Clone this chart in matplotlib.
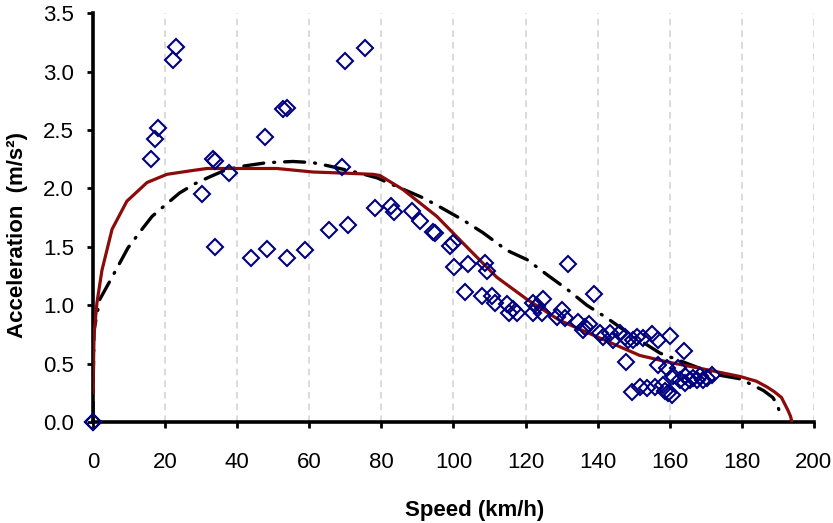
import matplotlib.pyplot as plt

# Measured points (speed km/h, acceleration m/s^2)
meas_speed = [0, 0, 16.1, 17.2, 18.0, 22.2, 23.0, 30.2, 33.3, 33.8, 33.8, 37.7,
              43.8, 47.7, 48.3, 52.7, 53.8, 53.8, 58.8, 65.5, 69.1, 69.9, 70.7,
              75.5, 78.2, 82.7, 83.5, 88.5, 90.7, 94.3, 94.9, 99.0, 99.9, 100.1,
              104.0, 103.2, 108.7, 109.3, 107.9, 110.7, 111.5, 114.8, 115.4,
              116.5, 117.6, 122.1, 123.2, 124.8, 122.1, 124.5, 128.7, 130.1,
              130.9, 131.8, 134.5, 135.9, 137.6, 136.5, 139.0, 140.6, 141.5,
              143.4, 144.2, 146.2, 147.6, 148.4, 149.8, 150.9, 152.6, 155.1,
              156.7, 160.1, 149.5, 151.7, 153.7, 155.9, 158.1, 158.7, 159.5,
              160.6, 147.9, 156.7, 159.2, 162.3, 163.9, 160.9, 162.8, 164.2,
              164.2, 165.6, 166.4, 167.5, 168.4, 169.2, 170.3, 171.7]
meas_accel = [0, 0, 2.25, 2.42, 2.52, 3.10, 3.21, 1.95, 2.25, 2.23, 1.50, 2.13,
              1.40, 2.44, 1.48, 2.68, 2.69, 1.40, 1.47, 1.64, 2.18, 3.09, 1.69,
              3.20, 1.83, 1.85, 1.80, 1.81, 1.72, 1.63, 1.62, 1.51, 1.53, 1.33,
              1.35, 1.11, 1.36, 1.29, 1.08, 1.08, 1.02, 1.01, 0.93, 0.97, 0.93,
              1.02, 0.99, 1.05, 0.93, 0.93, 0.90, 0.96, 0.89, 1.35, 0.86, 0.79,
              0.84, 0.81, 1.10, 0.76, 0.73, 0.76, 0.70, 0.76, 0.73, 0.70, 0.70,
              0.73, 0.72, 0.75, 0.70, 0.74, 0.26, 0.30, 0.29, 0.30, 0.32, 0.27,
              0.25, 0.23, 0.51, 0.49, 0.46, 0.46, 0.61, 0.39, 0.36, 0.39, 0.33,
              0.36, 0.38, 0.36, 0.39, 0.36, 0.38, 0.40]

# Model curve 1 (solid dark red)
red_speed = [0, 0.3, 1.1, 2.5, 5.3, 9.4, 15, 20.5, 27, 31.6, 40, 51, 61, 70,
             77.7, 79.6, 86, 95.4, 104.6, 112, 120.4, 129.5, 139.8, 151.7, 160,
             168.4, 179.5, 184, 187, 189, 191, 192.8, 193.5, 193.9]
red_accel = [0.25, 0.75, 1.02, 1.30, 1.65, 1.89, 2.05, 2.12, 2.15, 2.17, 2.17,
             2.17, 2.14, 2.13, 2.12, 2.11, 1.99, 1.76, 1.47, 1.24, 1.05, 0.87,
             0.73, 0.57, 0.51, 0.46, 0.39, 0.35, 0.30, 0.26, 0.21, 0.10, 0.05, 0.0]

# Model curve 2 (black dash-dot)
blk_speed = [0, 0.1, 0.3, 1.9, 5.3, 9.7, 13.6, 16.4, 19.4, 24, 28.3, 32.5, 37,
             41.6, 48.3, 55.5, 61, 65.7, 74, 78.8, 83.2, 91.5, 96.3, 102.6,
             108.2, 114.8, 120.4, 126, 131.8, 137, 142.6, 148.1, 157.3, 167.5,
             174, 179.5, 186, 188.6, 190, 190.6]
blk_accel = [0, 0.4, 0.79, 1.05, 1.24, 1.49, 1.65, 1.76, 1.84, 1.96, 2.04, 2.10,
             2.16, 2.19, 2.22, 2.23, 2.22, 2.19, 2.13, 2.09, 2.03, 1.92, 1.84,
             1.73, 1.62, 1.47, 1.39, 1.26, 1.13, 1.00, 0.89, 0.77, 0.59, 0.47,
             0.40, 0.37, 0.27, 0.21, 0.14, 0.06]

x_ticks = list(range(0, 201, 20))
y_ticks = [0.0, 0.5, 1.0, 1.5, 2.0, 2.5, 3.0, 3.5]

plt.rcParams['font.family'] = ['Liberation Sans', 'DejaVu Sans']

fig = plt.figure(figsize=(8.33, 5.23), dpi=100)
ax = fig.add_axes([0.1116, 0.193, 0.8655, 0.782])

for x in x_ticks[1:]:
    ax.axvline(x, color='#d4d4d4', lw=1.2, ls=(0, (4, 3)), zorder=0)

ax.plot(blk_speed, blk_accel, color='black', lw=2.4,
        ls=(0, (6, 3, 0.3, 3)), dash_capstyle='round', zorder=2)
ax.plot(red_speed, red_accel, color='#8b0a0a', lw=2.3, zorder=3)
ax.plot(meas_speed, meas_accel, ls='none', marker='D', ms=8.5,
        mfc='none', mec='#000080', mew=1.5, zorder=4, clip_on=False)

ax.set_xlim(0, 200)
ax.set_ylim(0, 3.5)
ax.set_xticks(x_ticks)
ax.set_yticks(y_ticks)
ax.set_yticklabels([f'{v:.1f}' for v in y_ticks])

for side in ['top', 'right']:
    ax.spines[side].set_visible(False)
for side in ['left', 'bottom']:
    ax.spines[side].set_linewidth(2.6)
ax.tick_params(axis='both', direction='out', length=4.5, width=2.0,
               labelsize=16)
ax.tick_params(axis='x', pad=17)
ax.tick_params(axis='y', pad=9)

ax.set_xlabel('Speed (km/h)', fontsize=16, fontweight='bold')
ax.set_ylabel('Acceleration  (m/s²)', fontsize=16, fontweight='bold')
ax.xaxis.set_label_coords(0.53, -0.19)
ax.yaxis.set_label_coords(-0.090, 0.457)

fig.savefig('out.png', dpi=100)
